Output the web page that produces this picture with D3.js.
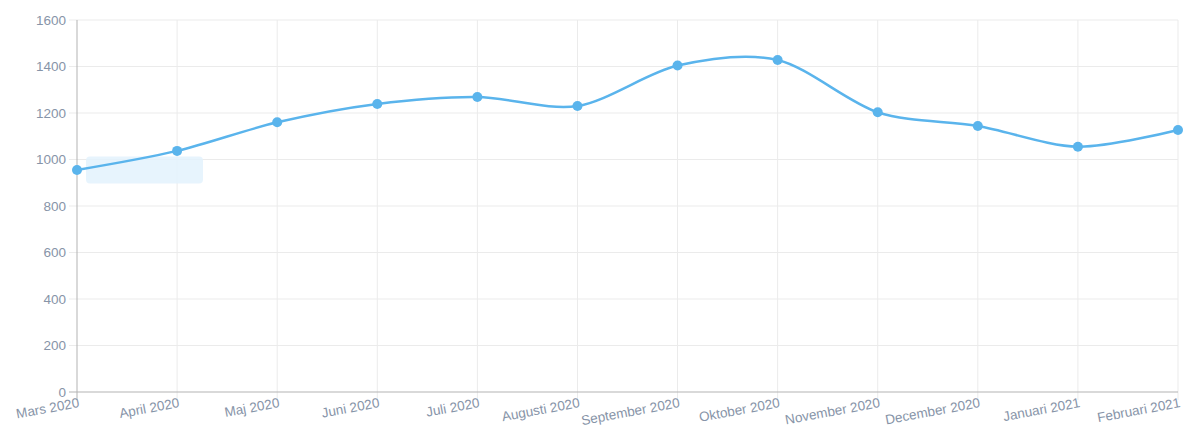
<!DOCTYPE html>
<html>
<head>
<meta charset="utf-8">
<script src="https://cdn.jsdelivr.net/npm/d3@7"></script>
<style>
  body { margin: 0; background: #fff; }
  svg text { font-family: "Liberation Sans", Arial, Helvetica, sans-serif; font-size: 13.5px; fill: #8794a8; }
</style>
</head>
<body>
<div id="chart"></div>
<script>
// months shown on the x axis
const months = ["Mars 2020", "April 2020", "Maj 2020", "Juni 2020", "Juli 2020", "Augusti 2020",
  "September 2020", "Oktober 2020", "November 2020", "December 2020", "Januari 2021", "Februari 2021"];
// values
const values = [955, 1037, 1160, 1239, 1269, 1230, 1404, 1428, 1203, 1144, 1055, 1127];
const yTicks = [0, 200, 400, 600, 800, 1000, 1200, 1400, 1600];

const width = 1185, height = 433;
const margin = { top: 20, right: 7, bottom: 41, left: 77 };
const innerW = width - margin.left - margin.right;
const innerH = height - margin.top - margin.bottom;

const svg = d3.select("#chart").append("svg")
  .attr("width", width)
  .attr("height", height);

const g = svg.append("g")
  .attr("transform", "translate(" + margin.left + "," + margin.top + ")");

const x = d3.scalePoint().domain(months).range([0, innerW]);
const y = d3.scaleLinear().domain([0, 1600]).range([innerH, 0]);

// horizontal grid
g.append("g")
  .selectAll("line")
  .data(yTicks)
  .enter().append("line")
  .attr("x1", -8)
  .attr("x2", innerW)
  .attr("y1", d => y(d))
  .attr("y2", d => y(d))
  .attr("stroke", d => d === 0 ? "none" : "#ebebeb")
  .attr("stroke-width", 1);

// vertical grid
g.append("g")
  .selectAll("line")
  .data(months)
  .enter().append("line")
  .attr("x1", d => x(d))
  .attr("x2", d => x(d))
  .attr("y1", 0)
  .attr("y2", innerH + 8)
  .attr("stroke", (d, i) => i === 0 ? "none" : "#ebebeb")
  .attr("stroke-width", 1);

// axis lines
g.append("line")
  .attr("x1", 0).attr("x2", 0)
  .attr("y1", 0).attr("y2", innerH + 8)
  .attr("stroke", "#b3b3b3");
g.append("line")
  .attr("x1", -8).attr("x2", innerW)
  .attr("y1", innerH).attr("y2", innerH)
  .attr("stroke", "#b3b3b3");

// y labels
g.append("g")
  .selectAll("text")
  .data(yTicks)
  .enter().append("text")
  .attr("x", -11)
  .attr("y", d => y(d))
  .attr("dy", "0.35em")
  .attr("text-anchor", "end")
  .text(d => d);

// x labels, rotated
g.append("g")
  .selectAll("text")
  .data(months)
  .enter().append("text")
  .attr("transform", d => "translate(" + (x(d) + 1) + "," + (innerH + 5) + ") rotate(-10.5)")
  .attr("dy", "0.75em")
  .attr("text-anchor", "end")
  .text(d => d);

// faint tooltip box left over near the first point
g.append("rect")
  .attr("x", x(months[0]) + 9)
  .attr("y", y(1000) - 3)
  .attr("width", 117)
  .attr("height", 27)
  .attr("rx", 4)
  .attr("fill", "#e3f2fd")
  .attr("opacity", 0.85);

// line
const line = d3.line()
  .x((d, i) => x(months[i]))
  .y(d => y(d))
  .curve(d3.curveCardinal.tension(0.1));

g.append("path")
  .datum(values)
  .attr("fill", "none")
  .attr("stroke", "#5ab4ec")
  .attr("stroke-width", 2.5)
  .attr("d", line);

g.selectAll(".dot")
  .data(values)
  .enter().append("circle")
  .attr("class", "dot")
  .attr("cx", (d, i) => x(months[i]))
  .attr("cy", d => y(d))
  .attr("r", 5)
  .attr("fill", "#5ab4ec");
</script>
</body>
</html>
